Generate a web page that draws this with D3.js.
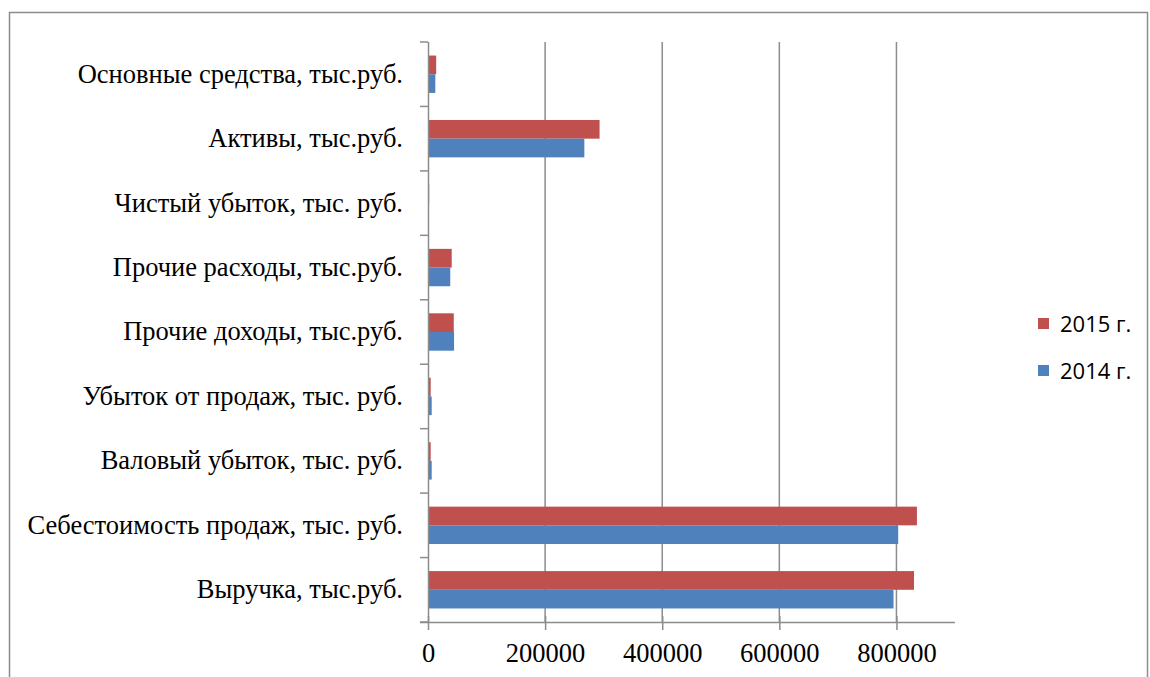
<!DOCTYPE html>
<html>
<head>
<meta charset="utf-8">
<script src="https://cdn.jsdelivr.net/npm/d3@7"></script>
<style>
  html, body { margin: 0; padding: 0; background: #fff; }
  svg { display: block; }
</style>
</head>
<body>
<svg id="chart" width="1150" height="677"></svg>
<script>
// Categories, bottom to top as in the chart
const categories = [
  "Выручка, тыс.руб.",
  "Себестоимость продаж, тыс. руб.",
  "Валовый убыток, тыс. руб.",
  "Убыток от продаж, тыс. руб.",
  "Прочие доходы, тыс.руб.",
  "Прочие расходы, тыс.руб.",
  "Чистый убыток, тыс. руб.",
  "Активы, тыс.руб.",
  "Основные средства, тыс.руб."
];
const values2014 = [795000, 803000, 6300, 6300, 44500, 38000, 0, 267000, 12500];
const values2015 = [830000, 835000, 4600, 4600, 44000, 40500, 2000, 293000, 14000];
const seriesNames = ["2015 г.", "2014 г."];
const xTicks = [0, 200000, 400000, 600000, 800000];

const svg = d3.select("#chart");
const gridColor = "#8c8c8c";
const serif = "'Liberation Serif', 'Times New Roman', serif";
const colors = { "2015 г.": "#C0504D", "2014 г.": "#4F81BD" };

// chart frame
svg.append("rect")
  .attr("x", 9.5).attr("y", 12.5)
  .attr("width", 1138).attr("height", 700)
  .attr("fill", "#fff").attr("stroke", "#8c8c8c").attr("stroke-width", 1.5);

const plot = { left: 428, right: 955, top: 42, bottom: 622 };

const x = d3.scaleLinear().domain([0, 900000]).range([plot.left, plot.right]);
// categories listed bottom-up, so reverse for top-to-bottom band ordering
const y = d3.scaleBand().domain(categories.slice().reverse()).range([plot.top, plot.bottom]).paddingInner(0.42).paddingOuter(0.21);
const sub = d3.scaleBand().domain(seriesNames).range([0, y.bandwidth()]);

// vertical gridlines
svg.append("g").selectAll("line")
  .data(xTicks.filter(d => d > 0))
  .join("line")
  .attr("x1", d => x(d)).attr("x2", d => x(d))
  .attr("y1", plot.top).attr("y2", plot.bottom)
  .attr("stroke", gridColor).attr("stroke-width", 1.5);

// bars
const rows = categories.map((c, i) => ({ c, v: { "2014 г.": values2014[i], "2015 г.": values2015[i] } }));
const groups = svg.append("g").selectAll("g")
  .data(rows).join("g")
  .attr("transform", d => `translate(0,${y(d.c)})`);
groups.selectAll("rect")
  .data(d => seriesNames.map(s => ({ s, v: d.v[s] })))
  .join("rect")
  .attr("x", x(0))
  .attr("y", d => sub(d.s))
  .attr("width", d => x(d.v) - x(0))
  .attr("height", sub.bandwidth())
  .attr("fill", d => colors[d.s]);

// x axis
const xAxis = d3.axisBottom(x).tickValues(xTicks).tickSize(8).tickFormat(d3.format("d"));
const gx = svg.append("g").attr("transform", `translate(0,${plot.bottom})`).call(xAxis);
gx.select(".domain").attr("stroke", gridColor).attr("stroke-width", 1.5)
  .attr("d", `M${plot.left - 8},0.5H${plot.right}`);
gx.selectAll(".tick line").attr("stroke", gridColor).attr("stroke-width", 1.5).attr("y1", -6);
gx.selectAll(".tick text")
  .attr("dy", 0).attr("y", 40)
  .attr("font-family", serif)
  .attr("font-size", 26.5).attr("fill", "#000");

// y axis
const yAxis = d3.axisLeft(y).tickSize(0).tickPadding(25);
const gy = svg.append("g").attr("transform", `translate(${plot.left},0)`).call(yAxis);
gy.select(".domain").attr("stroke", gridColor).attr("stroke-width", 1.5)
  .attr("d", `M0.5,${plot.top}V${plot.bottom}`);
gy.selectAll(".tick text")
  .attr("font-family", serif)
  .attr("font-size", 26.5).attr("fill", "#000");

// category boundary ticks on the left axis
const step = (plot.bottom - plot.top) / categories.length;
svg.append("g").selectAll("line")
  .data(d3.range(categories.length + 1))
  .join("line")
  .attr("x1", plot.left - 8).attr("x2", plot.left)
  .attr("y1", i => plot.top + i * step).attr("y2", i => plot.top + i * step)
  .attr("stroke", gridColor).attr("stroke-width", 1.5);

// legend
const legend = svg.append("g").attr("transform", "translate(1038,318)");
const li = legend.selectAll("g").data(seriesNames).join("g")
  .attr("transform", (d, i) => `translate(0,${i * 47})`);
li.append("rect").attr("width", 11).attr("height", 11).attr("fill", d => colors[d]);
li.append("text").attr("x", 22).attr("y", 14)
  .attr("font-family", "'Open Sans', Lato, sans-serif")
  .attr("font-size", 22).attr("fill", "#000")
  .text(d => d);
</script>
</body>
</html>
